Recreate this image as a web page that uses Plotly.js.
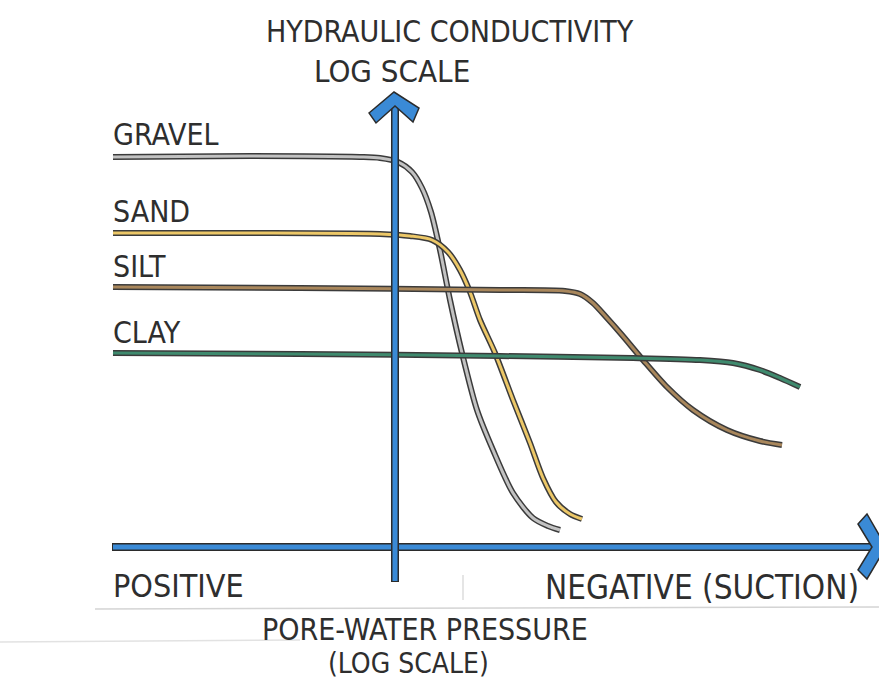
<!DOCTYPE html>
<html>
<head>
<meta charset="utf-8">
<script src="https://cdn.plot.ly/plotly-3.0.1.min.js"></script>
<style>html,body{margin:0;padding:0;background:#fff;}#chart{width:879px;height:681px;}</style>
</head>
<body>
<div id="chart"></div>
<script>
// Sketch coordinates (x: pore-water pressure position, y: conductivity position, 0 at top)
var soils = ["GRAVEL", "SAND", "SILT", "CLAY"];
var soilColors = ["#c2c2c2", "#ecc767", "#a9875c", "#3f8a6e"];

var gravelX = [113, 250, 360, 380, 398, 412, 422, 431, 440, 450, 462, 477, 493, 513, 533, 548, 560];
var gravelY = [157, 156, 157, 158, 162, 172, 188, 212, 250, 300, 353, 410, 450, 493, 518, 526, 530];

var sandX = [113, 250, 380, 410, 432, 448, 460, 470, 480, 495, 513, 530, 543, 556, 570, 582];
var sandY = [233, 233, 234, 236, 240, 252, 270, 292, 320, 353, 400, 443, 478, 502, 514, 519];

var siltX = [113, 300, 500, 565, 580, 593, 607, 622, 643, 667, 693, 727, 760, 782];
var siltY = [287, 288, 290, 291, 294, 303, 318, 335, 360, 387, 410, 430, 441, 445];

var clayX = [113, 300, 500, 633, 700, 733, 760, 780, 800];
var clayY = [353, 354, 356, 358, 360, 363, 370, 378, 387];

var labelX = [112, 112, 112, 112];
var labelY = [153, 230, 285, 351];

var yTitle = ["HYDRAULIC CONDUCTIVITY", "LOG SCALE"];
var xTitle = ["PORE-WATER PRESSURE", "(LOG SCALE)"];
var xEnds = ["POSITIVE", "NEGATIVE (SUCTION)"];

var curvesX = [gravelX, sandX, siltX, clayX];
var curvesY = [gravelY, sandY, siltY, clayY];

var traces = [];
for (var i = 0; i < soils.length; i++) {
  traces.push({x: curvesX[i], y: curvesY[i], mode: "lines", line: {color: "#3b3b3b", width: 6, shape: "spline", smoothing: 0.8}, hoverinfo: "skip", showlegend: false});
  traces.push({x: curvesX[i], y: curvesY[i], mode: "lines", name: soils[i], line: {color: soilColors[i], width: 3, shape: "spline", smoothing: 0.8}, showlegend: false});
}

var FONT = "'DejaVu Sans Condensed', 'DejaVu Sans', sans-serif";
var ink = "#2e2e2e";
var blue = "#3a8ad6";

function ann(x, y, text, size, xanchor) {
  return {x: x, y: y, xref: "x", yref: "y", text: text, showarrow: false, xanchor: xanchor, yanchor: "bottom", borderpad: 0, font: {family: FONT, size: size, color: ink}};
}

var annotations = [];
for (var j = 0; j < soils.length; j++) {
  annotations.push(ann(labelX[j], labelY[j], soils[j], 30, "left"));
}
annotations.push(ann(450, 50, yTitle[0], 30, "center"));
annotations.push(ann(392, 90, yTitle[1], 31, "center"));
annotations.push(ann(112, 606, xEnds[0], 32, "left"));
annotations.push(ann(860, 608, xEnds[1], 33, "right"));
annotations.push(ann(425, 648, xTitle[0], 30, "center"));
annotations.push(ann(408, 681, xTitle[1], 28, "center"));

var shapes = [
  // faint paper rules
  {type: "line", xref: "x", yref: "y", x0: 95, x1: 879, y0: 609, y1: 607, line: {color: "#d4d4d4", width: 1.5}},
  {type: "line", xref: "x", yref: "y", x0: 0, x1: 300, y0: 642, y1: 640, line: {color: "#e2e2e2", width: 1.5}},
  {type: "line", xref: "x", yref: "y", x0: 463, x1: 463, y0: 575, y1: 600, line: {color: "#dddddd", width: 1.5}},
  // horizontal axis
  {type: "line", xref: "x", yref: "y", x0: 112, x1: 874, y0: 547, y1: 547, line: {color: "#2b2b2b", width: 8}},
  {type: "line", xref: "x", yref: "y", x0: 113, x1: 873, y0: 547, y1: 547, line: {color: blue, width: 5}},
  // vertical axis
  {type: "line", xref: "x", yref: "y", x0: 395, x1: 395, y0: 582, y1: 100, line: {color: "#2b2b2b", width: 8}},
  {type: "line", xref: "x", yref: "y", x0: 395, x1: 395, y0: 581, y1: 101, line: {color: blue, width: 5}},
  // arrow heads
  {type: "path", xref: "x", yref: "y", path: "M 369 113 L 394 92 L 419 108 L 413 122 L 395 106 L 376 123 Z", fillcolor: blue, line: {color: "#2b2b2b", width: 1.5}},
  {type: "path", xref: "x", yref: "y", path: "M 858 524 L 867 514 L 886 547 L 867 579 L 858 570 L 872 547 Z", fillcolor: blue, line: {color: "#2b2b2b", width: 1.5}}
];

var layout = {
  width: 879, height: 681,
  margin: {l: 0, r: 0, t: 0, b: 0, pad: 0},
  paper_bgcolor: "#ffffff", plot_bgcolor: "#ffffff",
  xaxis: {range: [0, 879], visible: false, fixedrange: true},
  yaxis: {range: [681, 0], visible: false, fixedrange: true},
  showlegend: false,
  annotations: annotations,
  shapes: shapes
};

Plotly.newPlot("chart", traces, layout, {displayModeBar: false, staticPlot: true});
</script>
</body>
</html>
